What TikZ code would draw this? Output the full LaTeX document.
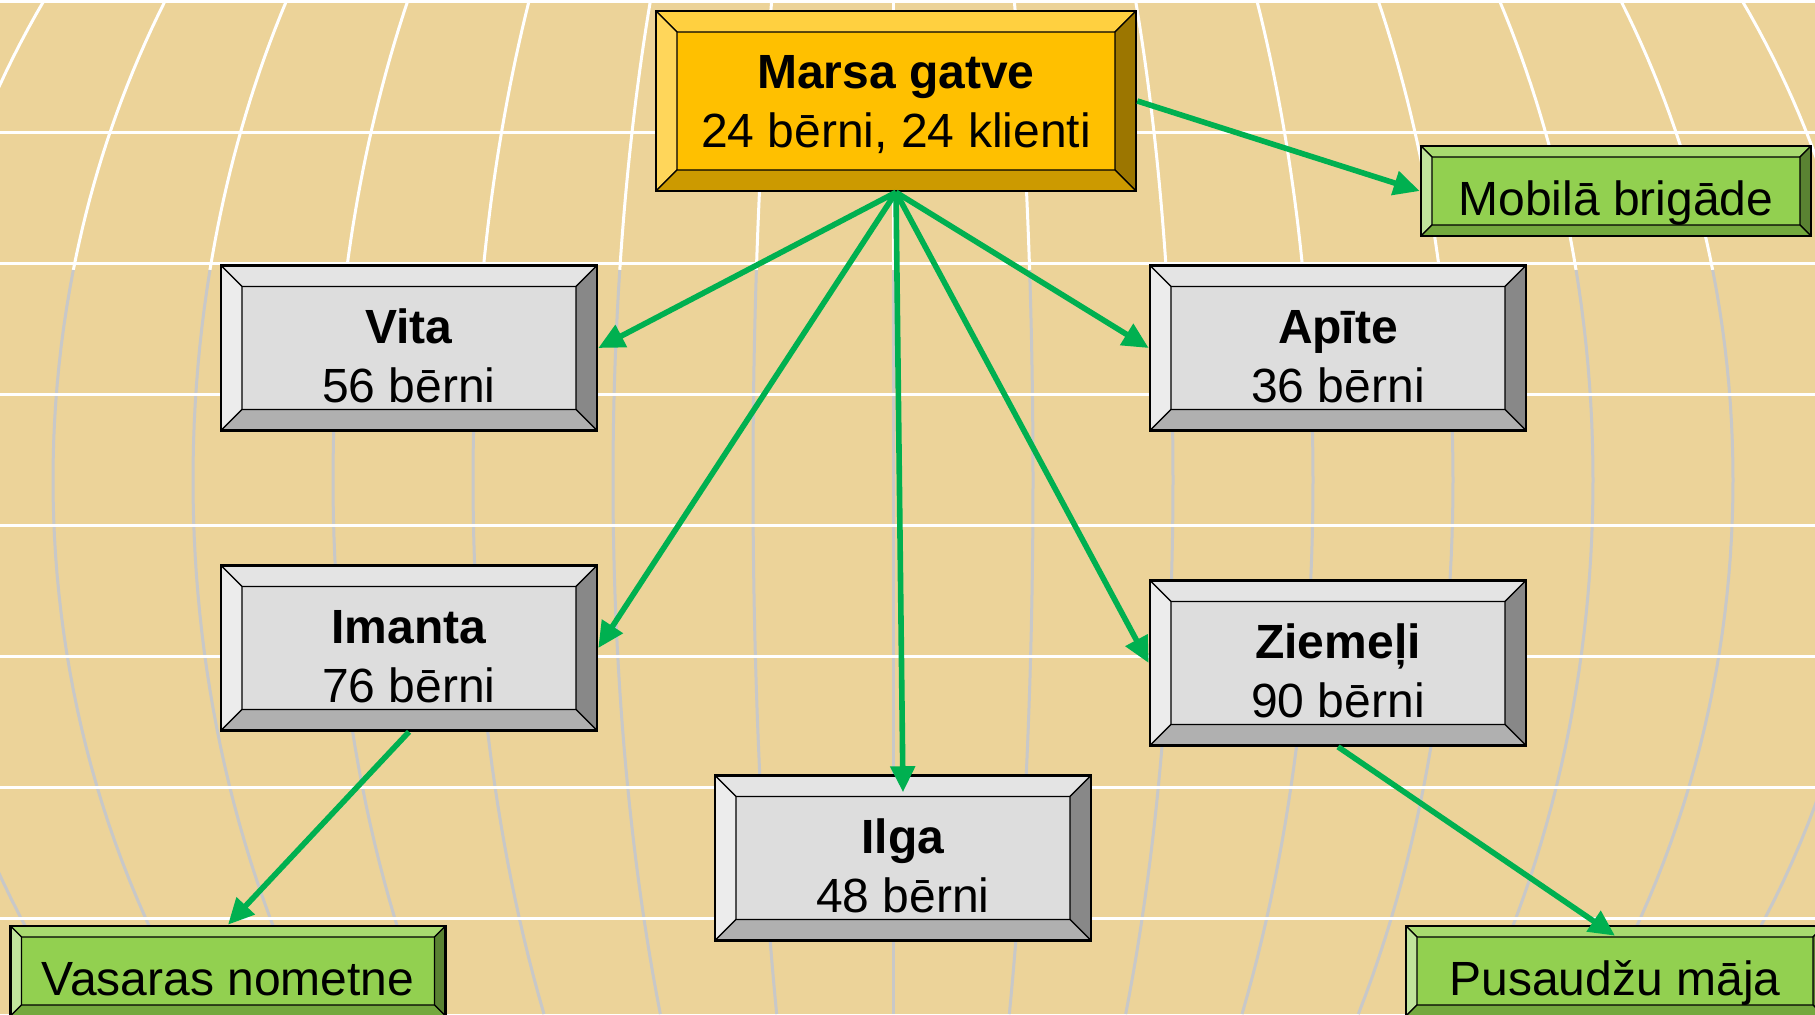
\documentclass[tikz,border=0pt]{standalone}
\usepackage{fontspec}
\setmainfont{Liberation Sans}
\usepackage{xcolor}
\usepackage{tikz}
\usetikzlibrary{arrows.meta}

\definecolor{papyrus}{RGB}{236,211,153}
\definecolor{gridgray}{RGB}{200,200,200}
\definecolor{arrowgreen}{RGB}{0,176,80}
\definecolor{goldface}{RGB}{255,192,0}
\definecolor{goldtop}{RGB}{255,208,64}
\definecolor{goldleft}{RGB}{255,214,90}
\definecolor{goldright}{RGB}{156,118,0}
\definecolor{goldbottom}{RGB}{204,154,0}
\definecolor{grayface}{RGB}{221,221,221}
\definecolor{graytop}{RGB}{228,228,228}
\definecolor{grayleft}{RGB}{236,236,236}
\definecolor{grayright}{RGB}{136,136,136}
\definecolor{graybottom}{RGB}{176,176,176}
\definecolor{greenface}{RGB}{146,208,80}
\definecolor{greentop}{RGB}{168,218,112}
\definecolor{greenleft}{RGB}{192,228,156}
\definecolor{greenright}{RGB}{90,130,50}
\definecolor{greenbottom}{RGB}{116,168,62}

\begin{document}
\begin{tikzpicture}[x=0.5pt, y=-0.5pt,
		bevel/.style n args={6}{draw=black, line width=1.3pt, inner sep=0pt, align=center,
			font=\fontsize{24}{29.5}\selectfont, fill=#3,
			path picture={
				\coordinate (oa) at (path picture bounding box.north west);
				\coordinate (ob) at (path picture bounding box.north east);
				\coordinate (oc) at (path picture bounding box.south east);
				\coordinate (od) at (path picture bounding box.south west);
				\coordinate (ia) at ([shift={(#6,-#6)}]oa);
				\coordinate (ib) at ([shift={(-#6,-#6)}]ob);
				\coordinate (ic) at ([shift={(-#6,#6)}]oc);
				\coordinate (id) at ([shift={(#6,#6)}]od);
				\filldraw[draw=black, line width=0.6pt, fill=#1] (oa) -- (ob) -- (ib) -- (ia) -- cycle;
				\filldraw[draw=black, line width=0.6pt, fill=#2] (oa) -- (ia) -- (id) -- (od) -- cycle;
				\filldraw[draw=black, line width=0.6pt, fill=#4] (ob) -- (oc) -- (ic) -- (ib) -- cycle;
				\filldraw[draw=black, line width=0.6pt, fill=#5] (od) -- (id) -- (ic) -- (oc) -- cycle;
			}},
		goldbox/.style={bevel={goldtop}{goldleft}{goldface}{goldright}{goldbottom}{10.5pt}, minimum width=240pt, minimum height=90pt, text depth=-3pt},
		graybox/.style={bevel={graytop}{grayleft}{grayface}{grayright}{graybottom}{10.5pt}, minimum width=188pt, minimum height=82.5pt,
			execute at begin node={\rule{0pt}{54.7pt}}},
		greenbox/.style={bevel={greentop}{greenleft}{greenface}{greenright}{greenbottom}{5.5pt}, minimum height=45pt, text depth=0pt,
			execute at begin node={\rule{0pt}{24.5pt}}},
		link/.style={draw=arrowgreen, line width=2.8pt, -{Triangle[length=13pt,width=12pt]}}]
	\clip (0,0) rectangle (1815,1014);
	\fill[papyrus] (0,0) rectangle (1815,1014);
	\foreach \k in {-7,...,7}{
		\draw[white, line width=1.5pt, domain=0:270, samples=20] plot ({893+140*\k*sqrt(1-((\x-480)/960)^2)}, {\x});
		\draw[gridgray, line width=1.5pt, domain=270:1014, samples=40] plot ({893+140*\k*sqrt(1-((\x-480)/960)^2)}, {\x});
	}
	\foreach \y in {1,132,...,1014}
		\draw[white, line width=1.5pt] (0,\y) -- (1815,\y);

	\node[goldbox] (marsa) at (896,101) {\textbf{Marsa gatve}\\24 bērni, 24 klienti};
	\node[graybox] (vita) at (409,348) {\textbf{Vita}\\56 bērni};
	\node[graybox] (apite) at (1338,348) {\textbf{Apīte}\\36 bērni};
	\node[graybox] (imanta) at (409,648) {\textbf{Imanta}\\76 bērni};
	\node[graybox] (ziemeli) at (1338,663) {\textbf{Ziemeļi}\\90 bērni};
	\node[graybox] (ilga) at (903,858) {\textbf{Ilga}\\48 bērni};
	\node[greenbox, minimum width=195pt] (mobila) at (1616,191) {Mobilā brigāde};
	\node[greenbox, minimum width=217.5pt] (vasaras) at (228,971) {Vasaras nometne};
	\node[greenbox, minimum width=209pt] (pusaudzu) at (1615,971) {Pusaudžu māja};

	\draw[link] (marsa.south) -- (vita.east);
	\draw[link] (marsa.south) -- (apite.west);
	\draw[link] (marsa.south) -- (imanta.east);
	\draw[link] (marsa.south) -- (ziemeli.west);
	\draw[link] (marsa.south) -- ([yshift=-9pt]ilga.north);
	\draw[link] (marsa.east) -- (mobila.west);
	\draw[link] (imanta.south) -- (vasaras.north);
	\draw[link] (ziemeli.south) -- ([yshift=-5.5pt]pusaudzu.north);
\end{tikzpicture}
\end{document}
